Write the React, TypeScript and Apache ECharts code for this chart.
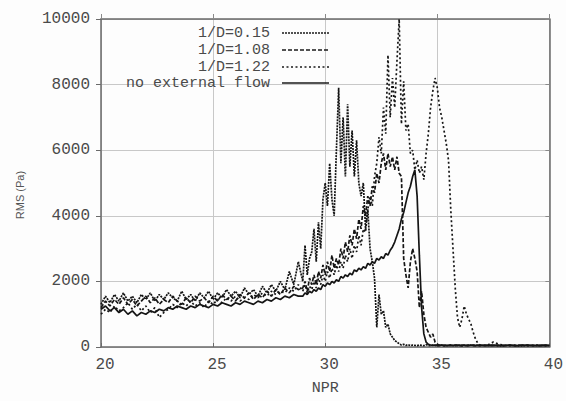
import React, { useEffect, useRef } from "react";
import * as echarts from "echarts";

// NPR sampling grid (x values)
const npr = [
  20, 20.2, 20.4, 20.6, 20.8, 21, 21.2, 21.4, 21.6, 21.8,
  22, 22.2, 22.4, 22.6, 22.8, 23, 23.2, 23.4, 23.6, 23.8,
  24, 24.2, 24.4, 24.6, 24.8, 25, 25.2, 25.4, 25.6, 25.8,
  26, 26.2, 26.4, 26.6, 26.8, 27, 27.2, 27.4, 27.6, 27.8,
  28, 28.2, 28.4, 28.6, 28.8,
  29, 29.1, 29.2, 29.3, 29.4, 29.5, 29.6, 29.7, 29.8, 29.9,
  30, 30.1, 30.2, 30.3, 30.4, 30.5, 30.6, 30.7, 30.8, 30.9,
  31, 31.1, 31.2, 31.3, 31.4, 31.5, 31.6, 31.7, 31.8, 31.9,
  32, 32.1, 32.2, 32.3, 32.4, 32.5, 32.6, 32.7, 32.8, 32.9,
  33, 33.1, 33.2, 33.3, 33.4, 33.5, 33.6, 33.7, 33.8, 33.9,
  34, 34.1, 34.2, 34.3, 34.4, 34.5, 34.6, 34.7, 34.8, 34.9,
  35, 35.1, 35.2, 35.3, 35.4, 35.5, 35.6, 35.7, 35.8, 35.9,
  36, 36.1, 36.2, 36.3, 36.4, 36.5, 36.6, 36.7, 36.8, 36.9,
  37,
  37.25, 37.5, 37.75, 38, 38.25, 38.5, 38.75, 39, 39.25, 39.5, 39.75, 40,
];

// RMS (Pa), l/D = 0.15
const rmsD015 = [
  1300, 1550, 1350, 1600, 1400, 1650, 1400, 1550, 1350, 1600,
  1450, 1650, 1400, 1600, 1450, 1650, 1500, 1400, 1700, 1450,
  1600, 1400, 1650, 1500, 1700, 1450, 1650, 1500, 1750, 1550,
  1700, 1500, 1800, 1600, 1750, 1550, 1850, 1650, 1900, 1700,
  2000, 1750, 2300, 1900, 2600,
  2000, 3100, 2200, 2700, 2900, 3600, 2600, 3800, 3000, 4500,
  5000, 4300, 5600, 4500, 4000, 6000, 7900, 5600, 7000, 5200,
  7400, 5500, 6600, 5200, 6300, 5000, 4600, 5000, 3600, 4200,
  3000, 2600, 2100, 600, 1600, 1000, 1100, 600, 700, 400,
  300, 200, 150, 100, 60, 80, 50, 70, 40, 60,
  50, 40, 60, 50, 40, 70, 50, 40, 60, 50,
  40, 50, 60, 40, 50, 40, 60, 50, 40, 50,
  60, 40, 50, 40, 60, 50, 40, 50, 60, 40,
  50,
  40, 50, 30, 40, 50, 40, 30, 50, 40, 40, 50, 40,
];

// RMS (Pa), l/D = 1.08
const rmsD108 = [
  1200, 1400, 1250, 1450, 1300, 1500, 1300, 1450, 1250, 1400,
  1550, 1350, 1500, 1300, 1450, 1350, 1550, 1400, 1300, 1500,
  1350, 1550, 1400, 1500, 1350, 1550, 1400, 1600, 1450, 1550,
  1400, 1600, 1500, 1650, 1450, 1600, 1500, 1700, 1550, 1750,
  1600, 1800, 1650, 1850, 1750,
  1800, 2000, 1700, 2100, 1900, 2200, 1900, 2300, 2100, 2500,
  2200, 2600, 2300, 2800, 2400, 2700, 2500, 3000, 2700, 3200,
  2900, 3400, 3100, 3600, 3300, 3900, 3600, 4300, 4000, 4600,
  4300, 4900, 4700, 5300, 5000, 5600, 5900, 5400, 5900, 5500,
  5800, 5400, 5800, 5300, 5200, 2700, 2200, 1800, 2600, 3000,
  2700, 2300, 1200, 1700, 1000, 600, 450, 300, 400, 150,
  80, 60, 50, 40, 60, 50, 40, 50, 60, 40,
  50, 40, 60, 50, 40, 50, 60, 40, 50, 40,
  50,
  50, 40, 60, 40, 50, 40, 60, 50, 40, 50, 40, 50,
];

// RMS (Pa), l/D = 1.22
const rmsD122 = [
  1000, 1150, 1050, 1250, 1100, 1200, 1350, 1150, 1300, 1100,
  1250, 1050, 1200, 900, 1050, 1150, 1300, 1200, 1350, 1250,
  1400, 1250, 1350, 1200, 1400, 1300, 1450, 1350, 1500, 1400,
  1550, 1400, 1500, 1450, 1600, 1500, 1650, 1550, 1700, 1600,
  1700, 1650, 1800, 1700, 1900,
  1700, 1900, 1650, 1850, 1750, 2000, 1800, 2100, 1900, 2200,
  2000, 2300, 2100, 2400, 2200, 2500, 2300, 2600, 2400, 2800,
  2600, 3000, 2700, 3100, 2900, 3400, 3100, 3600, 3500, 4200,
  4600, 4300, 5200, 5600, 6400, 5900, 7300, 6500, 8900, 7000,
  8200, 7300, 8700, 10000, 6800, 8100, 6600, 6800, 5900, 6000,
  5400, 5700, 5300, 5500, 5100, 5900, 6500, 7300, 7800, 8200,
  7900, 7300, 7000, 6600, 6200, 5700, 4200, 3000, 1800, 900,
  600, 850, 1250, 1000, 850, 700, 450, 250, 120, 60,
  40,
  60, 150, 80, 50, 40, 60, 50, 40, 50, 60, 40, 50,
];

// RMS (Pa), no external flow
const rmsNoFlow = [
  1150, 1250, 1100, 1200, 1050, 1150, 1000, 1100, 950, 1050,
  1000, 1100, 1050, 1150, 1100, 1200, 1150, 1250, 1200, 1150,
  1250, 1200, 1300, 1250, 1200, 1300, 1250, 1350, 1300, 1250,
  1350, 1300, 1400, 1350, 1300, 1400, 1350, 1450, 1400, 1500,
  1450, 1550, 1500, 1600, 1550,
  1550, 1650, 1600, 1700, 1650, 1750, 1700, 1800, 1750, 1900,
  1850, 1950, 1900, 2000, 1950, 2050, 2000, 2150, 2100, 2200,
  2150, 2250, 2200, 2350, 2300, 2400, 2350, 2450, 2400, 2550,
  2500, 2600, 2550, 2700, 2650, 2750, 2700, 2850, 2800, 2950,
  3050, 3200, 3400, 3600, 3900, 4100, 4400, 4700, 4900, 5200,
  5400, 4600, 2800, 1200, 400, 150, 80, 60, 50, 60,
  50, 40, 60, 50, 40, 50, 60, 40, 50, 60,
  40, 50, 60, 40, 50, 60, 50, 40, 50, 60,
  50,
  50, 60, 40, 50, 60, 40, 50, 60, 50, 40, 60, 50,
];

const seriesNames = ["1/D=0.15", "1/D=1.08", "1/D=1.22", "no external flow"];
const seriesValues = [rmsD015, rmsD108, rmsD122, rmsNoFlow];
const seriesDash: (number[] | "solid")[] = [[2, 1], [4, 2], [2, 2.5], "solid"];

const xTicks = { min: 20, max: 40, interval: 5 };
const yTicks = { min: 0, max: 10000, interval: 2000 };

const MONO = "'Liberation Mono', 'Courier New', monospace";

export default function App() {
  const ref = useRef<HTMLDivElement>(null);

  useEffect(() => {
    if (!ref.current) return;
    const chart = echarts.init(ref.current, undefined, { renderer: "svg" });

    const axisLine = { show: true, onZero: false, lineStyle: { color: "#6a6a6a", width: 1.5 } };
    const labelStyle = { fontFamily: MONO, fontSize: 16, color: "#4a4a4a" };

    const series = seriesNames.map((name, i) => ({
      name,
      type: "line",
      xAxisIndex: 0,
      yAxisIndex: 0,
      showSymbol: false,
      symbol: "none",
      data: npr.map((x, k) => [x, seriesValues[i][k]]),
      lineStyle: { color: "#151515", width: 1.7, type: seriesDash[i] },
      z: 5,
    }));

    const legendRows = [33, 50, 67, 83];
    const graphic: any[] = [];
    seriesNames.forEach((name, i) => {
      graphic.push({
        type: "text",
        style: {
          text: name,
          x: 270,
          y: legendRows[i],
          textAlign: "right",
          align: "right",
          textVerticalAlign: "middle",
          verticalAlign: "middle",
          font: `15px ${MONO}`,
          lineHeight: 15,
          fill: "#4a4a4a",
        },
        z: 10,
      });
      graphic.push({
        type: "line",
        shape: { x1: 282, y1: legendRows[i], x2: 329, y2: legendRows[i] },
        style: {
          stroke: "#1a1a1a",
          lineWidth: 1.5,
          lineDash: seriesDash[i] === "solid" ? null : seriesDash[i],
        },
        z: 10,
      });
    });

    chart.setOption({
      animation: false,
      backgroundColor: "#fdfdfd",
      grid: { left: 101, right: 14, top: 19, bottom: 48 },
      xAxis: [
        {
          type: "value",
          ...xTicks,
          name: "NPR",
          nameLocation: "middle",
          nameGap: 34,
          nameTextStyle: { fontFamily: MONO, fontSize: 15, color: "#4a4a4a" },
          axisLine,
          axisTick: { show: true, inside: true, length: 4, lineStyle: { color: "#6a6a6a" } },
          axisLabel: { ...labelStyle, margin: 10, padding: [0, 0, 0, 8] },
          splitLine: { show: true, lineStyle: { color: "#c8c8c8", width: 1 } },
        },
        {
          type: "value",
          ...xTicks,
          position: "top",
          axisLine,
          axisTick: { show: true, inside: false, length: 5, lineStyle: { color: "#8a8a8a" } },
          axisLabel: { show: false },
          splitLine: { show: false },
        },
      ],
      yAxis: [
        {
          type: "value",
          ...yTicks,
          name: "RMS (Pa)",
          nameLocation: "middle",
          nameGap: 76,
          nameTextStyle: {
            fontFamily: "'Liberation Sans', Arial, sans-serif",
            fontSize: 11,
            color: "#555",
            padding: [0, 24, 0, 0],
          },
          axisLine,
          axisTick: { show: true, inside: false, length: 5, lineStyle: { color: "#6a6a6a" } },
          axisLabel: { ...labelStyle, margin: 11, formatter: (v: number) => String(v) },
          splitLine: { show: true, lineStyle: { color: "#c8c8c8", width: 1 } },
        },
        {
          type: "value",
          ...yTicks,
          position: "right",
          axisLine,
          axisTick: { show: true, inside: true, length: 4, lineStyle: { color: "#8a8a8a" } },
          axisLabel: { show: false },
          splitLine: { show: false },
        },
      ],
      graphic,
      series,
    });

    return () => chart.dispose();
  }, []);

  return (
    <div
      ref={ref}
      style={{ position: "fixed", left: 0, top: 0, width: 566, height: 401 }}
    />
  );
}
